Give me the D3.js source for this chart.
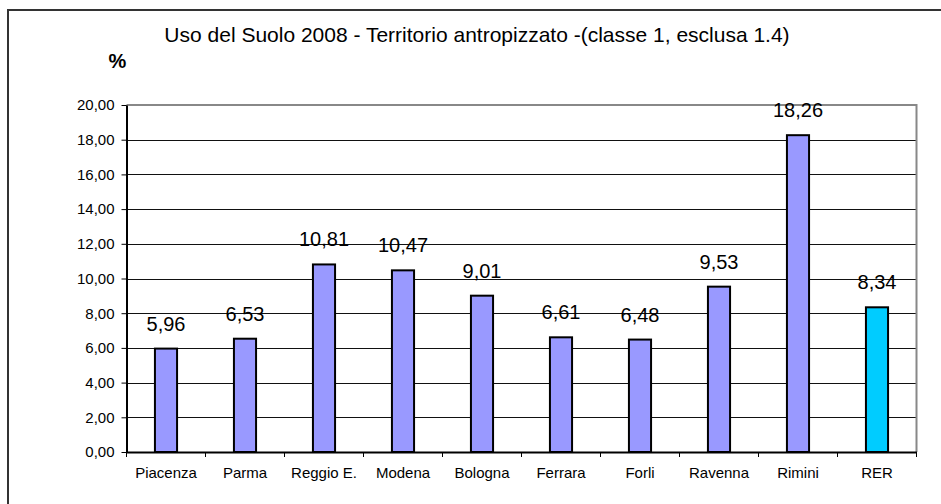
<!DOCTYPE html>
<html>
  <head>
    <meta charset="utf-8">
    <script src="https://d3js.org/d3.v7.min.js"></script>
    <style>
      body { margin: 0; background: #fff; }
      svg { display: block; font-family: "Liberation Sans", Arial, Helvetica, sans-serif; }
      .tick-label { font-size: 15px; fill: #000; }
      .value { font-size: 20px; fill: #000; text-anchor: middle; }
    </style>
  </head>
  <body>
    <svg width="941" height="504"></svg>
    <script>
    // data
    var province = ["Piacenza", "Parma", "Reggio E.", "Modena", "Bologna", "Ferrara", "Forli", "Ravenna", "Rimini", "RER"];
    var valori = [5.96, 6.53, 10.81, 10.47, 9.01, 6.61, 6.48, 9.53, 18.26, 8.34];
    var yTicks = [0, 2, 4, 6, 8, 10, 12, 14, 16, 18, 20];
    var titolo = "Uso del Suolo 2008 - Territorio antropizzato -(classe 1, esclusa 1.4)";

    var fmt = function(v) { return v.toFixed(2).replace(".", ","); };

    var svg = d3.select("svg"),
        plot = {left: 126.5, right: 916.5, top: 105, bottom: 452};

    // outer chart border (runs off the right/bottom of the picture)
    svg.append("rect")
        .attr("x", 8).attr("y", 10)
        .attr("width", 960).attr("height", 520)
        .attr("fill", "#fff")
        .attr("stroke", "#333")
        .attr("stroke-width", 2);

    var x = d3.scaleBand()
        .domain(province)
        .range([plot.left, plot.right])
        .padding(0);

    var y = d3.scaleLinear()
        .domain([0, 20])
        .range([plot.bottom, plot.top]);

    // title and unit
    svg.append("text")
        .attr("x", 477).attr("y", 42)
        .attr("text-anchor", "middle")
        .style("font-size", "21px")
        .text(titolo);

    svg.append("text")
        .attr("x", 117.5).attr("y", 68)
        .attr("text-anchor", "middle")
        .style("font-size", "20px")
        .style("font-weight", "bold")
        .text("%");

    // gridlines
    svg.append("g")
        .selectAll("line")
        .data(yTicks.slice(1))
        .enter().append("line")
        .attr("x1", plot.left).attr("x2", plot.right)
        .attr("y1", function(d) { return Math.round(y(d)) + 0.5; })
        .attr("y2", function(d) { return Math.round(y(d)) + 0.5; })
        .attr("stroke", "#111")
        .attr("stroke-width", 1);

    // plot area border
    svg.append("path")
        .attr("d", "M" + plot.left + "," + plot.top + "H" + plot.right + "V" + plot.bottom)
        .attr("fill", "none")
        .attr("stroke", "#888")
        .attr("stroke-width", 2);

    // bars
    var barW = x.bandwidth() * 0.28;
    svg.append("g")
        .selectAll("rect")
        .data(valori)
        .enter().append("rect")
        .attr("x", function(d, i) { return x(province[i]) + (x.bandwidth() - barW) / 2; })
        .attr("y", function(d) { return y(d); })
        .attr("width", barW)
        .attr("height", function(d) { return y(0) - y(d); })
        .attr("fill", function(d, i) { return province[i] === "RER" ? "#00CCFF" : "#9999FF"; })
        .attr("stroke", "#000")
        .attr("stroke-width", 2);

    // value labels
    svg.append("g")
        .selectAll("text")
        .data(valori)
        .enter().append("text")
        .attr("class", "value")
        .attr("x", function(d, i) { return x(province[i]) + x.bandwidth() / 2; })
        .attr("y", function(d) { return y(d) - 18; })
        .text(fmt);

    // y axis
    var yAxis = svg.append("g")
        .attr("transform", "translate(" + plot.left + ",0)")
        .call(d3.axisLeft(y).tickValues(yTicks).tickSize(5).tickSizeOuter(0).tickPadding(7).tickFormat(fmt));
    yAxis.select(".domain").attr("stroke", "#000").attr("stroke-width", 2);
    yAxis.selectAll(".tick line").attr("stroke", "#000");
    yAxis.selectAll(".tick text").attr("class", "tick-label").attr("font-family", null).attr("font-size", null);

    // x axis: labels centred, ticks on category boundaries
    var xAxis = svg.append("g")
        .attr("transform", "translate(0," + plot.bottom + ")")
        .call(d3.axisBottom(x).tickSize(0).tickPadding(15));
    xAxis.select(".domain").attr("stroke", "#000").attr("stroke-width", 2);
    xAxis.selectAll(".tick text").attr("class", "tick-label").attr("font-family", null).attr("font-size", null);

    xAxis.selectAll(".bound")
        .data(province.concat(["end"]))
        .enter().append("line")
        .attr("class", "bound")
        .attr("x1", function(d, i) { return plot.left + i * x.step(); })
        .attr("x2", function(d, i) { return plot.left + i * x.step(); })
        .attr("y1", 0).attr("y2", 5)
        .attr("stroke", "#000");
    </script>
  </body>
</html>
